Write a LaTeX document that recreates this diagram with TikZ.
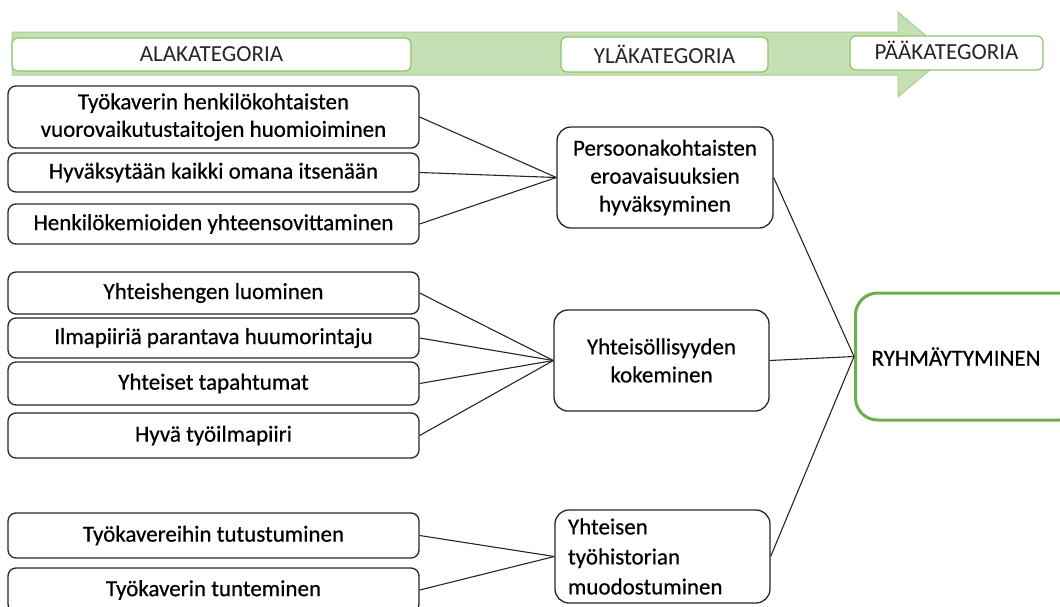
\documentclass[tikz,border=0pt]{standalone}
\usepackage{fontspec}
\setmainfont{Carlito}
\newfontfamily\boxfont[FakeBold=0.5]{Carlito}
\definecolor{arrowfill}{HTML}{C5E0B4}
\definecolor{arrowline}{HTML}{A9D18E}
\definecolor{headline}{HTML}{8CC46A}
\definecolor{mainline}{HTML}{70AD47}
\begin{document}
\begin{tikzpicture}[x=1pt,y=-1pt,
  txt/.style={font=\boxfont\fontsize{23}{27.5}\selectfont},
  headbox/.style={draw=headline,line width=1.2pt,fill=white,rounded corners=6pt,
    inner sep=0pt,font=\fontsize{23}{27.5}\selectfont,text=black!85},
  subbox/.style={draw=black!85,line width=1.3pt,fill=white,rounded corners=8pt,
    inner sep=0pt,align=center,txt,minimum width=411pt},
  midbox/.style={draw=black!85,line width=1.3pt,fill=white,rounded corners=14pt,
    inner sep=0pt,align=center,font=\boxfont\fontsize{23}{28}\selectfont,
    minimum width=215pt,minimum height=101pt},
  link/.style={draw=black!85,line width=1.1pt}]
\useasboundingbox (0,0) rectangle (1060,606);
\clip (0,0) rectangle (1060,606);

% progress arrow behind the category headings
\fill[arrowfill,draw=arrowline,line width=1pt]
  (12,32) -- (898,32) -- (898,12) -- (948,54.5) -- (898,97) -- (898,75) -- (12,75) -- cycle;

\node[headbox,minimum width=399pt,minimum height=33pt] (h1) at (211.5,54.5) {ALAKATEGORIA};
\node[headbox,minimum width=207pt,minimum height=35pt] (h2) at (664.5,54.5) {YLÄKATEGORIA};
\node[headbox,minimum width=193pt,minimum height=34pt,text depth=6pt] (h3) at (946.5,53) {PÄÄKATEGORIA};

% subcategories
\node[subbox,minimum height=62pt] (a1) at (213.5,117) {Työkaverin henkilökohtaisten\\vuorovaikutustaitojen huomioiminen};
\node[subbox,minimum height=39pt] (a2) at (213.5,172.5) {Hyväksytään kaikki omana itsenään};
\node[subbox,minimum height=40pt] (a3) at (213.5,224) {Henkilökemioiden yhteensovittaminen};
\node[subbox,minimum height=42pt] (a4) at (213.5,293) {Yhteishengen luominen};
\node[subbox,minimum height=40pt] (a5) at (213.5,338) {Ilmapiiriä parantava huumorintaju};
\node[subbox,minimum height=43pt] (a6) at (213.5,383.5) {Yhteiset tapahtumat};
\node[subbox,minimum height=45pt] (a7) at (213.5,435.5) {Hyvä työilmapiiri};
\node[subbox,minimum height=45pt] (a8) at (213.5,535.5) {Työkavereihin tutustuminen};
\node[subbox,minimum height=44pt] (a9) at (213.5,590) {Työkaverin tunteminen};

% upper categories
\node[midbox,minimum width=216pt] (m1) at (665,177.5) {Persoonakohtaisten\\eroavaisuuksien\\hyväksyminen};
\node[midbox] (m2) at (661.5,360.5) {Yhteisöllisyyden\\kokeminen};
\node[midbox,minimum height=93pt,text width=189pt,align=left,
  font=\boxfont\fontsize{23}{30}\selectfont] (m3) at (662.5,556.5) {Yhteisen\\työhistorian\\muodostuminen};

% main category
\node[draw=mainline,line width=3pt,rounded corners=22pt,fill=white,
  minimum height=127pt,text width=194pt,inner xsep=16pt,inner ysep=0pt,
  align=left,anchor=west,txt] (r) at (854,356.5) {RYHMÄYTYMINEN};

% connectors
\foreach \s in {a1,a2,a3} \draw[link] (\s.east) -- (m1.west);
\foreach \s in {a4,a5,a6,a7} \draw[link] (\s.east) -- (m2.west);
\foreach \s in {a8,a9} \draw[link] (\s.east) -- (m3.west);
\foreach \s in {m1,m2,m3} \draw[link] (\s.east) -- (r.west);
\end{tikzpicture}
\end{document}
